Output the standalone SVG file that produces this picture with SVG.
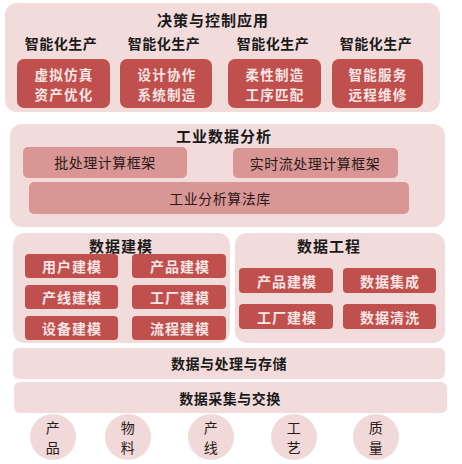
<svg xmlns="http://www.w3.org/2000/svg" width="462" height="464" viewBox="0 0 462 464">
<style>
text{font-family:"Noto Sans CJK SC","Noto Sans",sans-serif;text-anchor:middle;dominant-baseline:central}
.panel{fill:#f2dcdb}
.red{fill:#c0504d}
.mid{fill:#d99694}
.circ{fill:#f0d9d8}
.title{font-size:15px;font-weight:bold;fill:#1a1a1a;letter-spacing:1px}
.sub{font-size:14px;font-weight:bold;fill:#1a1a1a;letter-spacing:0.5px}
.wt{font-size:14px;font-weight:bold;fill:#fbe6e6;letter-spacing:1px}
.wt2{font-size:13.5px;font-weight:bold;fill:#fbe6e6;letter-spacing:1.2px}
.dk{font-size:14px;fill:#2a1a1a;letter-spacing:0.5px}
</style>
<rect width="462" height="464" fill="#ffffff"/>
<g id="decision">
<rect class="panel" x="5" y="3" width="435" height="109" rx="12"/>
<text class="title" x="213" y="19">决策与控制应用</text>
<text class="sub" x="61" y="43">智能化生产</text>
<text class="sub" x="164" y="43">智能化生产</text>
<text class="sub" x="273" y="43">智能化生产</text>
<text class="sub" x="376" y="43">智能化生产</text>
</g>
<g id="app1"><rect class="red" x="17" y="59" width="93" height="49" rx="7"/><text class="wt2" x="64" y="73.5">虚拟仿真</text><text class="wt2" x="64" y="93.5">资产优化</text></g>
<g id="app2"><rect class="red" x="120" y="59" width="92" height="49" rx="7"/><text class="wt2" x="167" y="73.5">设计协作</text><text class="wt2" x="167" y="93.5">系统制造</text></g>
<g id="app3"><rect class="red" x="228" y="59" width="93" height="49" rx="7"/><text class="wt2" x="275" y="73.5">柔性制造</text><text class="wt2" x="275" y="93.5">工序匹配</text></g>
<g id="app4"><rect class="red" x="332" y="59" width="91" height="49" rx="7"/><text class="wt2" x="378" y="73.5">智能服务</text><text class="wt2" x="378" y="93.5">远程维修</text></g>
<g id="analysis">
<rect class="panel" x="10" y="124" width="435" height="103" rx="12"/>
<text class="title" x="224" y="135">工业数据分析</text>
</g>
<g id="batch"><rect class="mid" x="23" y="147" width="164" height="31" rx="5"/><text class="dk" x="105" y="162">批处理计算框架</text></g>
<g id="stream"><rect class="mid" x="233" y="148" width="165" height="30" rx="5"/><text class="dk" x="315" y="163">实时流处理计算框架</text></g>
<g id="algo"><rect class="mid" x="29" y="182" width="380" height="32" rx="5"/><text class="dk" x="220" y="198">工业分析算法库</text></g>
<g id="modeling">
<rect class="panel" x="13" y="233" width="217" height="110" rx="12"/>
<text class="title" x="121" y="245">数据建模</text>
</g>
<g id="m1"><rect class="red" x="25" y="254" width="93" height="24" rx="4"/><text class="wt" x="72" y="266">用户建模</text></g>
<g id="m2"><rect class="red" x="132" y="254" width="94" height="24" rx="4"/><text class="wt" x="180" y="266">产品建模</text></g>
<g id="m3"><rect class="red" x="25" y="285" width="93" height="24" rx="4"/><text class="wt" x="72" y="297">产线建模</text></g>
<g id="m4"><rect class="red" x="132" y="285" width="94" height="24" rx="4"/><text class="wt" x="180" y="297">工厂建模</text></g>
<g id="m5"><rect class="red" x="25" y="316" width="93" height="24" rx="4"/><text class="wt" x="72" y="328">设备建模</text></g>
<g id="m6"><rect class="red" x="132" y="316" width="94" height="24" rx="4"/><text class="wt" x="180" y="328">流程建模</text></g>
<g id="engineering">
<rect class="panel" x="235" y="233" width="210" height="110" rx="12"/>
<text class="title" x="329" y="245">数据工程</text>
</g>
<g id="e1"><rect class="red" x="239" y="268" width="94" height="25" rx="4"/><text class="wt" x="287" y="280.5">产品建模</text></g>
<g id="e2"><rect class="red" x="343" y="268" width="93" height="25" rx="4"/><text class="wt" x="390" y="280.5">数据集成</text></g>
<g id="e3"><rect class="red" x="239" y="304" width="94" height="25" rx="4"/><text class="wt" x="287" y="316.5">工厂建模</text></g>
<g id="e4"><rect class="red" x="343" y="304" width="93" height="25" rx="4"/><text class="wt" x="390" y="316.5">数据清洗</text></g>
<g id="storage"><rect class="panel" x="13" y="348" width="432" height="31" rx="6"/><text class="sub" x="229" y="363">数据与处理与存储</text></g>
<g id="collect"><rect class="panel" x="14" y="382" width="433" height="31" rx="6"/><text class="sub" x="230" y="398">数据采集与交换</text></g>
<g id="c1"><circle class="circ" cx="53" cy="437" r="23"/><text class="dk" x="53" y="427">产</text><text class="dk" x="53" y="447">品</text></g>
<g id="c2"><circle class="circ" cx="128" cy="437" r="23"/><text class="dk" x="128" y="427">物</text><text class="dk" x="128" y="447">料</text></g>
<g id="c3"><circle class="circ" cx="211" cy="437" r="23"/><text class="dk" x="211" y="427">产</text><text class="dk" x="211" y="447">线</text></g>
<g id="c4"><circle class="circ" cx="294" cy="437" r="23"/><text class="dk" x="294" y="427">工</text><text class="dk" x="294" y="447">艺</text></g>
<g id="c5"><circle class="circ" cx="376" cy="437" r="23"/><text class="dk" x="376" y="427">质</text><text class="dk" x="376" y="447">量</text></g>
<g id="connectors"></g>
</svg>
